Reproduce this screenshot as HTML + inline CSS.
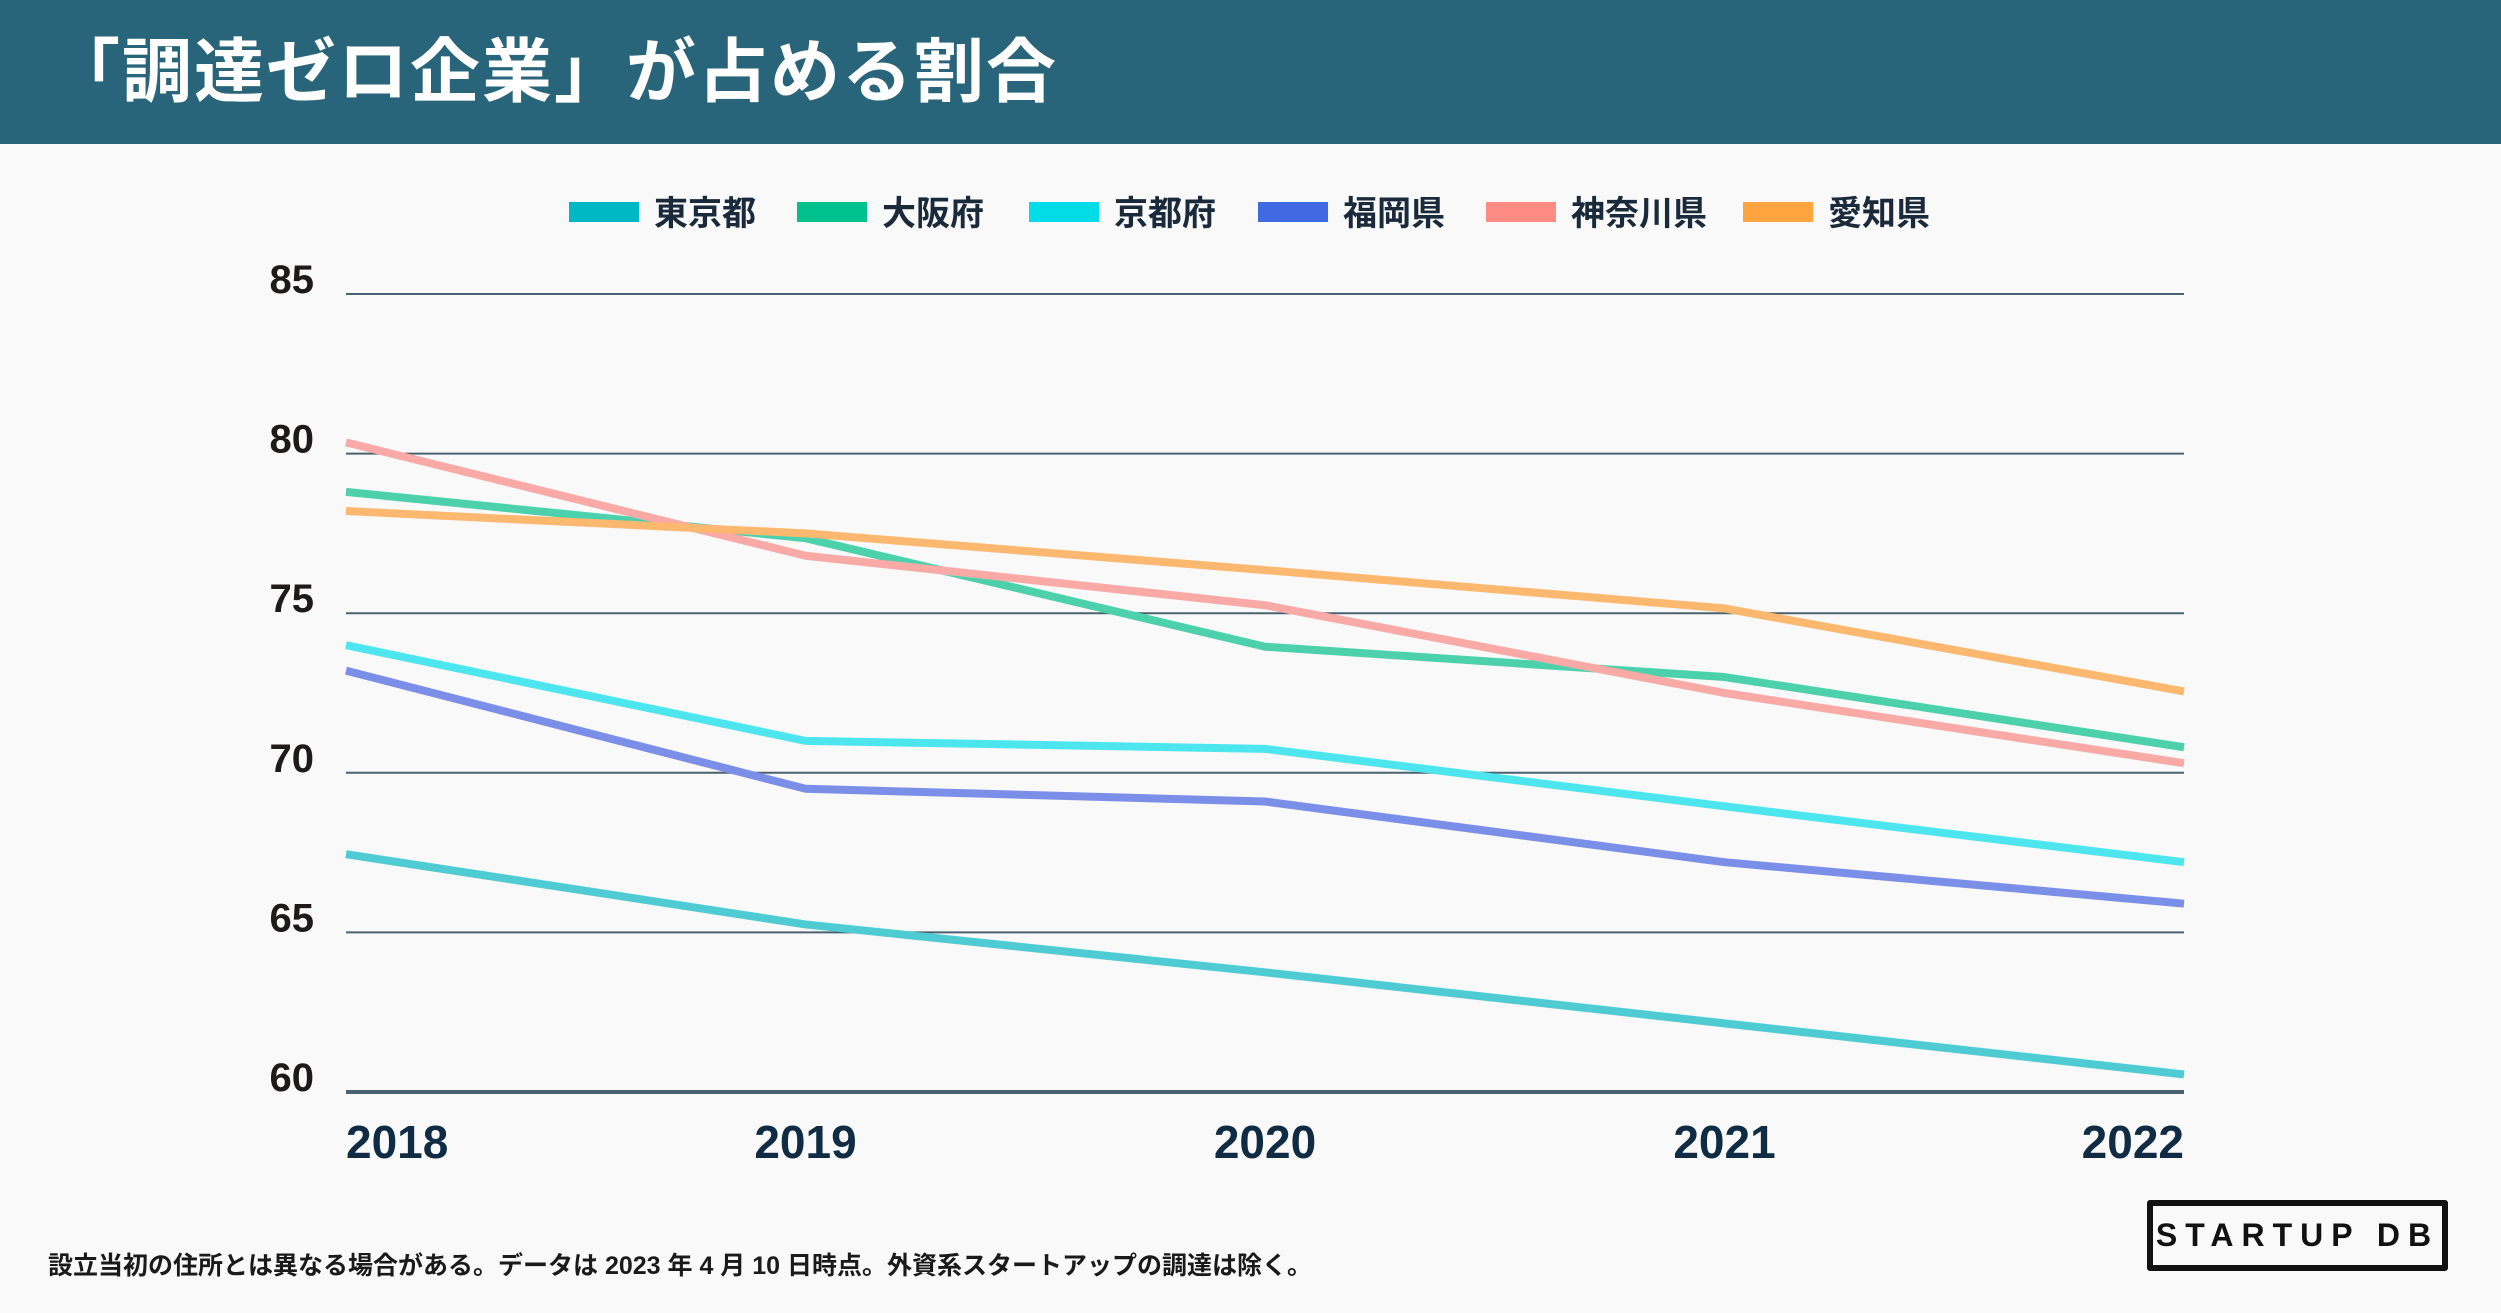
<!DOCTYPE html>
<html><head><meta charset="utf-8">
<style>
body{margin:0;width:2501px;height:1313px;background:#f9f9f9;overflow:hidden;font-family:"Liberation Sans","Noto Sans CJK JP",sans-serif;}
#hdr{position:absolute;left:0;top:0;width:2501px;height:144px;background:#29657a;}
#title{position:absolute;left:50px;top:32px;color:#fff;font-size:70px;line-height:80px;font-weight:bold;letter-spacing:2px;white-space:nowrap;}
#foot{position:absolute;left:48px;top:1246px;font-size:25px;color:#1a1a1a;font-weight:bold;white-space:nowrap;}
#logo{position:absolute;left:2147px;top:1200px;width:289px;height:59px;border:6px solid #111;border-radius:3px;text-align:center;line-height:59px;font-size:32px;font-weight:bold;letter-spacing:8px;color:#111;white-space:nowrap;overflow:hidden;}
</style></head><body>
<div id="hdr"><div id="title">「調達ゼロ企業」が占める割合</div></div>
<svg id="chart" width="2501" height="1313" style="position:absolute;left:0;top:0"></svg>
<div id="foot">設立当初の住所とは異なる場合がある。データは 2023 年 4 月 10 日時点。外資系スタートアップの調達は除く。</div>
<div id="logo">STARTUP DB</div>
<script>
const years=["2018","2019","2020","2021","2022"];
const yTicks=[60,65,70,75,80,85];
const seriesNames=["東京都","大阪府","京都府","福岡県","神奈川県","愛知県"];
const tokyo=[67.45,65.25,63.75,62.15,60.55];
const osaka=[78.8,77.35,73.95,73.0,70.8];
const kyoto=[74.0,71.0,70.75,68.95,67.2];
const fukuoka=[73.2,69.5,69.1,67.2,65.9];
const kanagawa=[80.35,76.8,75.25,72.5,70.3];
const aichi=[78.2,77.5,76.35,75.15,72.55];
const allSeries=[tokyo,osaka,kyoto,fukuoka,kanagawa,aichi];
const lineColors=["#4fcbd3","#4dd1ad","#4de6ee","#7b8fe8","#f9aaa6","#fdb870"];
const swatchColors=["#00b8c4","#00c08b","#00dce8","#4169e1","#ff8c84","#ffa53f"];
const NS="http://www.w3.org/2000/svg";
const svg=document.getElementById('chart');
const X0=346,X1=2184,Y60=1092,Y85=294;
const xs=i=>X0+(X1-X0)*i/(years.length-1);
const ys=v=>Y60-(v-60)*(Y60-Y85)/25;
function mk(t,a){const e=document.createElementNS(NS,t);for(const k in a)e.setAttribute(k,a[k]);svg.appendChild(e);return e;}
yTicks.forEach(v=>{
 const l=mk('line',{x1:X0,x2:X1,y1:ys(v),y2:ys(v),stroke:'#4a6270','stroke-width':v===60?4:2});
 
 
 const t=mk('text',{x:314,y:ys(v)-1,'text-anchor':'end','font-size':40,'font-weight':'bold',fill:'#1e1a1a','font-family':'Liberation Sans, sans-serif'});
 t.textContent=v;
 
 
});
years.forEach((y,i)=>{
 const anchor=i===0?'start':(i===years.length-1?'end':'middle');
 const t=mk('text',{x:xs(i),y:1158,'text-anchor':anchor,'font-size':46,'font-weight':'bold',fill:'#0f2c44','font-family':'Liberation Sans, sans-serif'});
 t.textContent=y;
 
 
});
allSeries.forEach((s,k)=>{
 const p=mk('polyline',{points:s.map((v,i)=>xs(i)+','+ys(v)).join(' '),fill:'none',stroke:lineColors[k],'stroke-width':8,'stroke-linejoin':'round'});
 
 
});
const legX=[569,797,1029,1258,1486,1743];
seriesNames.forEach((n,k)=>{
 const r=mk('rect',{x:legX[k],y:202,width:70,height:20,fill:swatchColors[k]});
 
 
 const t=mk('text',{x:legX[k]+85,y:225,'font-size':34,'font-weight':'bold',fill:'#1a2a3a','font-family':'Liberation Sans, Noto Sans CJK JP, sans-serif'});
 t.textContent=n;
 
 
});
</script>
</body></html>
